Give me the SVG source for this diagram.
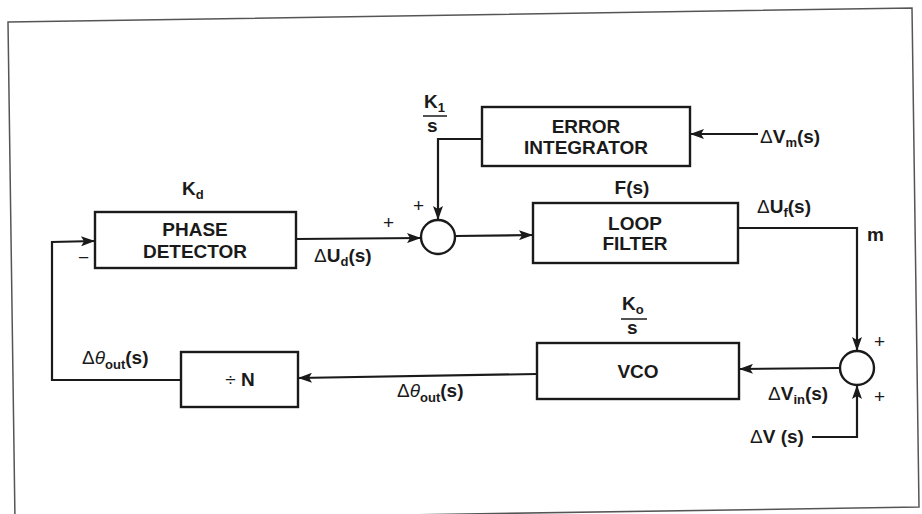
<svg xmlns="http://www.w3.org/2000/svg" width="922" height="514" viewBox="0 0 922 514">
<defs>
<marker id="ah" viewBox="0 0 14 10" refX="14" refY="5" markerWidth="15" markerHeight="10" markerUnits="userSpaceOnUse" orient="auto">
<path d="M0,0 L14,5 L0,10 L3,5 Z" fill="#1a1a1a"/>
</marker>
</defs>
<style>
.frame{fill:none;stroke:#555;stroke-width:1.5}
.box{fill:#fff;stroke:#1a1a1a;stroke-width:2.4}
.sum{fill:#fff;stroke:#1a1a1a;stroke-width:2.4}
.wire{fill:none;stroke:#1a1a1a;stroke-width:2.2}
.arr{marker-end:url(#ah)}
text{font-family:"Liberation Sans",Arial,sans-serif;font-weight:bold;fill:#1a1a1a;font-size:19px}
.c{text-anchor:middle}
.sub{font-size:13px}
.pm{font-weight:normal;font-size:19px}
.frac{stroke:#1a1a1a;stroke-width:1.5}
</style>
<rect width="922" height="514" fill="#fff"/>
<polygon class="frame" points="8,22 912,8 919,507 15,521"/>

<g id="connectors">
<path class="wire arr" d="M296,239 L421,238"/>
<path class="wire arr" d="M482,139 L438,139 L438,220"/>
<path class="wire arr" d="M758,134 L690,134"/>
<path class="wire arr" d="M455,236 L533,235"/>
<path class="wire arr" d="M738,228 L857,228 L857,351"/>
<path class="wire arr" d="M840,368 L739,369"/>
<path class="wire arr" d="M812,437 L857,437 L857,385"/>
<path class="wire arr" d="M537,374 L298,378"/>
<path class="wire arr" d="M181,380 L52,380 L52,242 L95,241"/>
</g>

<g id="phase_detector">
<rect class="box" x="95" y="212" width="201" height="56"/>
<text class="c" x="195" y="236">PHASE</text>
<text class="c" x="195" y="258">DETECTOR</text>
<text x="182" y="195">K<tspan class="sub" dy="4">d</tspan></text>
</g>

<g id="sum1">
<circle class="sum" cx="438" cy="237" r="17"/>
<text class="pm" x="383" y="229">+</text>
<text class="pm" x="413" y="212">+</text>
</g>

<g id="error_integrator">
<rect class="box" x="482" y="107" width="208" height="59"/>
<text class="c" x="586" y="133">ERROR</text>
<text class="c" x="586" y="154">INTEGRATOR</text>
<text x="424" y="108">K<tspan class="sub" dy="4">1</tspan></text>
<line class="frac" x1="423" y1="116" x2="447" y2="116"/>
<text x="427" y="132">s</text>
</g>

<g id="loop_filter">
<rect class="box" x="533" y="203" width="205" height="60"/>
<text class="c" x="635" y="230">LOOP</text>
<text class="c" x="635" y="250">FILTER</text>
<text class="c" x="632" y="194">F(s)</text>
</g>

<g id="sum2">
<circle class="sum" cx="857" cy="368" r="17"/>
<text class="pm" x="874" y="348">+</text>
<text class="pm" x="874" y="403">+</text>
</g>

<g id="vco">
<rect class="box" x="537" y="343" width="202" height="56"/>
<text class="c" x="638" y="378">VCO</text>
<text x="622" y="310">K<tspan class="sub" dy="4">o</tspan></text>
<line class="frac" x1="621" y1="319" x2="647" y2="319"/>
<text x="627" y="334">s</text>
</g>

<g id="divider">
<rect class="box" x="181" y="352" width="117" height="55"/>
<text class="c" x="240" y="386"><tspan font-weight="normal">÷</tspan> N</text>
</g>

<g id="labels">
<text x="78" y="264" class="pm">−</text>
<text x="314" y="262"><tspan font-weight="normal">Δ</tspan>U<tspan class="sub" dy="4">d</tspan><tspan dy="-4">(s)</tspan></text>
<text x="760" y="143"><tspan font-weight="normal">Δ</tspan>V<tspan class="sub" dy="4">m</tspan><tspan dy="-4">(s)</tspan></text>
<text x="757" y="213"><tspan font-weight="normal">Δ</tspan>U<tspan class="sub" dy="4">f</tspan><tspan dy="-4">(s)</tspan></text>
<text x="867" y="241">m</text>
<text x="768" y="400"><tspan font-weight="normal">Δ</tspan>V<tspan class="sub" dy="4">in</tspan><tspan dy="-4">(s)</tspan></text>
<text x="750" y="443"><tspan font-weight="normal">Δ</tspan>V (s)</text>
<text x="397" y="397"><tspan font-weight="normal">Δ</tspan><tspan font-weight="normal" font-style="italic">θ</tspan><tspan class="sub" dy="5">out</tspan><tspan dy="-5">(s)</tspan></text>
<text x="82" y="364"><tspan font-weight="normal">Δ</tspan><tspan font-weight="normal" font-style="italic">θ</tspan><tspan class="sub" dy="5">out</tspan><tspan dy="-5">(s)</tspan></text>
</g>
</svg>
